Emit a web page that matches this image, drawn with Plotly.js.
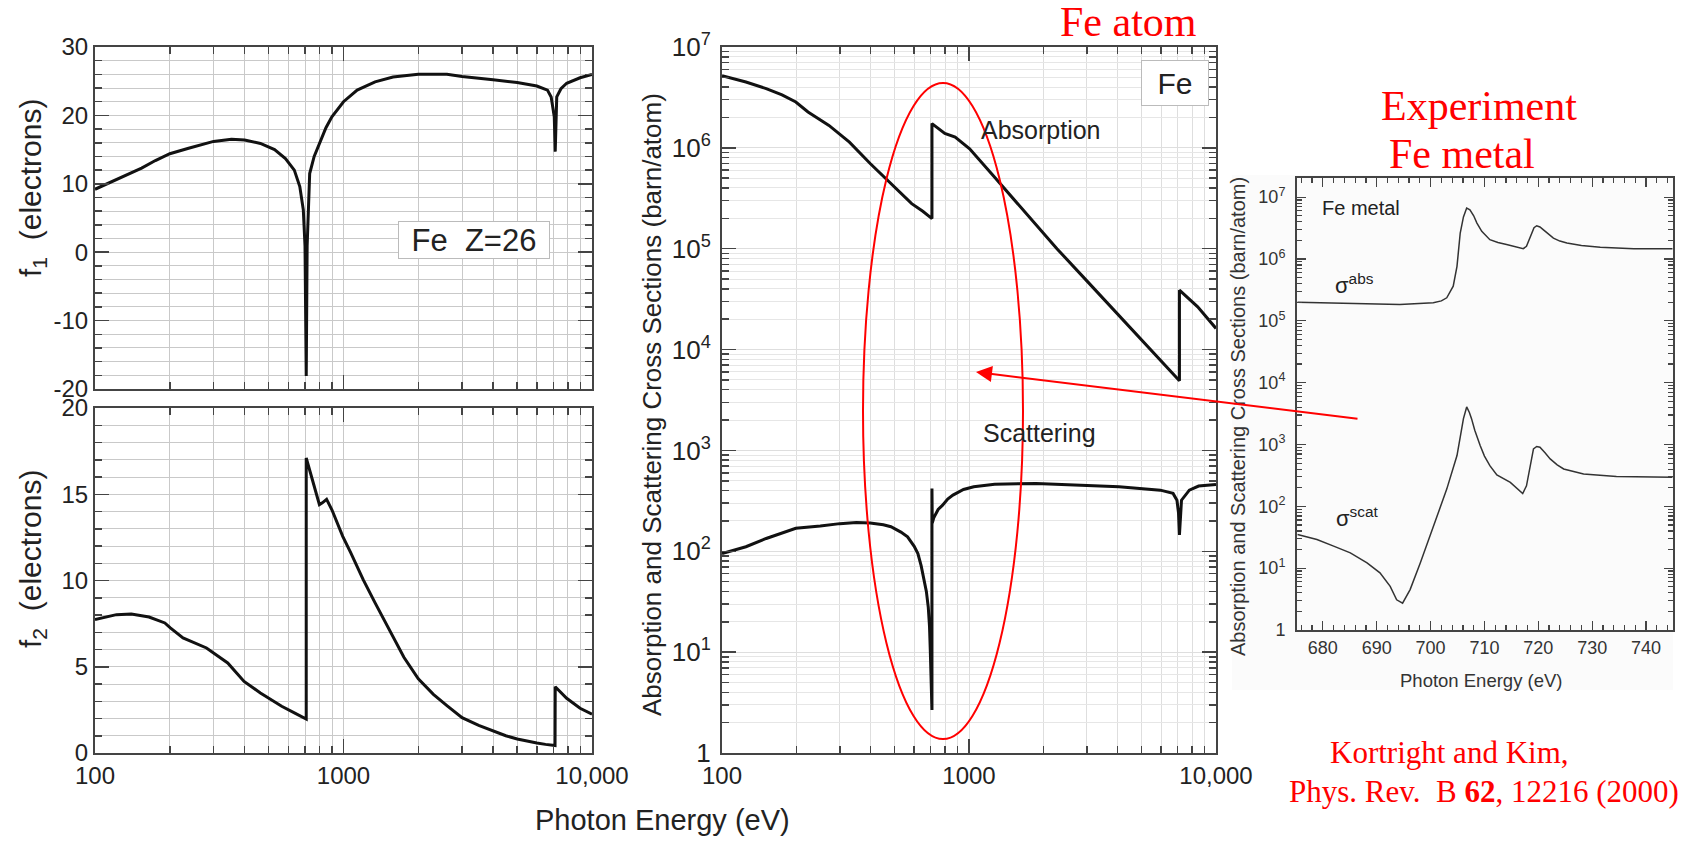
<!DOCTYPE html>
<html>
<head>
<meta charset="utf-8">
<script src="https://cdn.plot.ly/plotly-3.0.1.min.js"></script>
<style>html,body{margin:0;padding:0;background:#fff;}#chart{width:1695px;height:841px;}</style>
</head>
<body>
<div id="chart"></div>
<script>
// ---------- data ----------
// f1 (electrons) vs photon energy (eV)
const f1Energy = [100,122,154,175,200,238,270,300,354,400,463,528,584,634,667,689,700,708,714,731,762,813,850,898,950,1000,1135,1340,1582,2000,2607,3000,4000,5000,6000,6620,6850,7050,7112,7213,7500,7907,8955,10000];
const f1Values = [9.2,10.6,12.3,13.4,14.4,15.2,15.8,16.2,16.5,16.4,15.9,15.0,13.7,12.0,9.6,6.2,0.9,-18.1,0.9,11.5,14.0,16.4,18.2,19.8,21.0,22.0,23.7,24.9,25.6,26.0,26.0,25.7,25.2,24.8,24.3,23.7,22.7,19.8,14.7,22.7,23.9,24.7,25.5,26.0];
// f2 (electrons)
const f2Energy = [100,122,140,165,191,201,226,281,342,398,463,564,640,708,708,760,800,822,855,898,993,1070,1135,1200,1340,1450,1582,1750,2000,2300,2607,3000,3500,4000,4500,5000,5500,6000,6500,7100,7112,7907,8955,10000];
const f2Values = [7.73,8.02,8.06,7.88,7.54,7.25,6.67,6.09,5.22,4.15,3.48,2.71,2.3,1.97,17.1,15.6,14.4,14.5,14.7,14.1,12.56,11.6,10.8,10.05,8.7,7.75,6.7,5.55,4.3,3.4,2.75,2.05,1.6,1.26,1.0,0.81,0.68,0.58,0.5,0.43,3.84,3.17,2.59,2.25];
// Fe atom cross sections (barn/atom)
const absEnergy = [100,125,151,175,199,223,271,328,398,483,586,650,708,708,798,879,1006,1270,1870,2270,3000,4050,5000,5950,7112,7112,8430,10000];
const absValues = [5.2e6,4.5e6,3.87e6,3.35e6,2.85e6,2.27e6,1.67e6,1.14e6,7.0e5,4.43e5,2.8e5,2.35e5,1.99e5,1.74e6,1.39e6,1.28e6,9.8e5,5.1e5,1.74e5,1.0e5,4.8e4,2.17e4,1.24e4,7.9e3,4.9e3,3.88e4,2.65e4,1.62e4];
const scatEnergy = [100,125,151,175,199,250,300,350,398,450,483,530,564,600,621,640,658,672,684,692,697,703,708,708,710,720,750,780,820,861,950,1045,1270,1870,2750,4050,5950,6700,6950,7050,7112,7180,7250,7800,8500,10000];
const scatValues = [95,111,134,152,169,178,188,193,191,183,175,155,139,112,95,72,52,40,28,18,10.5,5,2.67,420,190,215,260,285,330,361,410,436,463,471,453,436,404,375,321,240,145,250,321,404,443,460];
// Experiment, Fe metal (Kortright and Kim)
const metalAbsEnergy = [675.3,681.9,688.1,694.3,700.5,702.0,703.0,704.2,704.9,705.5,706.1,706.7,707.3,708.0,708.6,709.5,711.0,712.5,714.1,716.0,717.2,717.8,718.5,719.2,719.7,720.3,720.9,722.0,722.8,724.0,725.3,728.0,731.5,737.7,744.9];
const metalAbsValues = [2.0e5,1.96e5,1.91e5,1.84e5,1.96e5,2.1e5,2.36e5,3.64e5,7.6e5,2.63e6,4.8e6,6.66e6,6.25e6,5.0e6,3.81e6,2.8e6,2.05e6,1.85e6,1.71e6,1.55e6,1.47e6,1.6e6,2.3e6,3.2e6,3.45e6,3.3e6,2.98e6,2.5e6,2.18e6,1.95e6,1.81e6,1.65e6,1.55e6,1.47e6,1.47e6];
const metalScatEnergy = [675.3,678.9,682.0,685.1,688.2,690.6,692.5,693.7,694.8,696.2,698.1,700.5,703.0,704.9,705.5,706.1,706.7,707.2,707.6,708.2,709.2,710.0,711.0,712.3,714.8,716.0,717.1,717.8,718.5,719.1,719.7,720.3,721.2,722.2,723.5,724.7,728.4,734.5,744.9];
const metalScatValues = [35,29,22.7,17.7,12.2,8.4,5.07,3.08,2.72,4.5,12.2,48,190,662,1300,2620,4050,3300,2620,1700,963,650,455,321,244,200,161,215,455,849,930,906,740,585,470,402,333,305,294];
// tick labels
const energyTickVals = [100,1000,10000];
const energyTickText = ['100','1000','10,000'];
const f1TickVals = [-20,-10,0,10,20,30];
const f1TickText = ['-20','-10','0','10','20','30'];
const f2TickVals = [0,5,10,15,20];
const decadeTickVals = [1,10,100,1000,10000,100000,1000000,10000000];
const decadeTickText = ['1','10<sup>1</sup>','10<sup>2</sup>','10<sup>3</sup>','10<sup>4</sup>','10<sup>5</sup>','10<sup>6</sup>','10<sup>7</sup>'];

// ---------- geometry helpers (pixel -> paper) ----------
const W = 1695, H = 841;
const px = v => v / W;
const py = v => 1 - v / H;

function minorLog(lo, hi) {
  const out = [];
  for (let p = lo; p < hi; p++) for (let m = 2; m <= 9; m++) out.push(m * Math.pow(10, p));
  return out;
}

const FONT = 'Liberation Sans, Arial, sans-serif';
const SERIF = 'Liberation Serif, Times New Roman, serif';
const AXC = '#444';
const GRID = '#c9c9c9';

function energyAxis(domain, anchor, labels, grid) {
  return {
    type: 'log', domain: domain, range: [2, 4], anchor: anchor,
    tickmode: 'array', tickvals: energyTickVals, ticktext: energyTickText,
    showticklabels: labels, tickfont: {size: 24, color: '#222'},
    ticks: 'inside', ticklen: 14, tickwidth: 1.5, tickcolor: AXC,
    showline: true, linecolor: AXC, linewidth: 2, mirror: 'ticks',
    showgrid: true, gridcolor: grid, gridwidth: 1, zeroline: false,
    minor: {tickmode: 'array', tickvals: minorLog(2, 4), ticks: 'inside', ticklen: 7, tickcolor: AXC, showgrid: true, gridcolor: grid, gridwidth: 1},
    fixedrange: true
  };
}

const traces = [
  {x: f1Energy, y: f1Values, xaxis: 'x', yaxis: 'y', mode: 'lines', line: {color: '#111', width: 3}, hoverinfo: 'skip'},
  {x: f2Energy, y: f2Values, xaxis: 'x2', yaxis: 'y2', mode: 'lines', line: {color: '#111', width: 3}, hoverinfo: 'skip'},
  {x: absEnergy, y: absValues, xaxis: 'x3', yaxis: 'y3', mode: 'lines', line: {color: '#111', width: 3}, hoverinfo: 'skip'},
  {x: scatEnergy, y: scatValues, xaxis: 'x3', yaxis: 'y3', mode: 'lines', line: {color: '#111', width: 3}, hoverinfo: 'skip'},
  {x: metalAbsEnergy, y: metalAbsValues, xaxis: 'x4', yaxis: 'y4', mode: 'lines', line: {color: '#333', width: 1.5}, hoverinfo: 'skip'},
  {x: metalScatEnergy, y: metalScatValues, xaxis: 'x4', yaxis: 'y4', mode: 'lines', line: {color: '#333', width: 1.5}, hoverinfo: 'skip'}
];

const leftX = [px(95), px(592)];
const midX = [px(722), px(1216)];

const layout = {
  width: W, height: H,
  margin: {l: 0, r: 0, t: 0, b: 0, pad: 0},
  paper_bgcolor: '#ffffff', plot_bgcolor: 'rgba(0,0,0,0)',
  showlegend: false,
  font: {family: FONT, color: '#222'},
  xaxis: energyAxis(leftX, 'y', false, GRID),
  yaxis: {
    domain: [py(389), py(47)], range: [-20, 30], anchor: 'x',
    tickmode: 'array', tickvals: f1TickVals, ticktext: f1TickText, tickfont: {size: 24, color: '#222'},
    ticks: 'inside', ticklen: 14, tickwidth: 1.5, tickcolor: AXC,
    showline: true, linecolor: AXC, linewidth: 2, mirror: 'ticks',
    showgrid: true, gridcolor: GRID, zeroline: false,
    minor: {dtick: 2, tick0: 0, ticks: 'inside', ticklen: 7, tickcolor: AXC, showgrid: true, gridcolor: GRID},
    fixedrange: true
  },
  xaxis2: energyAxis(leftX, 'y2', true, GRID),
  yaxis2: {
    domain: [py(753), py(408)], range: [0, 20], anchor: 'x2',
    tickmode: 'array', tickvals: f2TickVals, tickfont: {size: 24, color: '#222'},
    ticks: 'inside', ticklen: 14, tickwidth: 1.5, tickcolor: AXC,
    showline: true, linecolor: AXC, linewidth: 2, mirror: 'ticks',
    showgrid: true, gridcolor: GRID, zeroline: false,
    minor: {dtick: 1, tick0: 0, ticks: 'inside', ticklen: 7, tickcolor: AXC, showgrid: true, gridcolor: GRID},
    fixedrange: true
  },
  xaxis3: energyAxis(midX, 'y3', true, '#dedede'),
  yaxis3: {
    type: 'log', domain: [py(753), py(47)], range: [0, 7], anchor: 'x3',
    tickmode: 'array', tickvals: decadeTickVals, ticktext: decadeTickText, tickfont: {size: 26, color: '#222'},
    ticks: 'inside', ticklen: 14, tickwidth: 1.5, tickcolor: AXC,
    showline: true, linecolor: AXC, linewidth: 2, mirror: 'ticks',
    showgrid: true, gridcolor: '#dedede', zeroline: false, ticklabelstandoff: 4,
    minor: {tickmode: 'array', tickvals: minorLog(0, 7), ticks: 'inside', ticklen: 7, tickcolor: AXC, showgrid: true, gridcolor: '#e6e6e6'},
    fixedrange: true
  },
  xaxis4: {
    domain: [px(1297), px(1673)], range: [675.2, 745], anchor: 'y4',
    tickmode: 'linear', tick0: 680, dtick: 10, tickfont: {size: 18, color: '#333'},
    ticks: 'inside', ticklen: 9, tickwidth: 1.2, tickcolor: '#444',
    showline: true, linecolor: '#444', linewidth: 2, mirror: 'ticks',
    showgrid: false, zeroline: false,
    minor: {dtick: 2, tick0: 680, ticks: 'inside', ticklen: 5, tickcolor: '#444', showgrid: false},
    fixedrange: true
  },
  yaxis4: {
    type: 'log', domain: [py(630), py(178)], range: [0, 7.31], anchor: 'x4',
    tickmode: 'array', tickvals: decadeTickVals, ticktext: decadeTickText, tickfont: {size: 18, color: '#333'},
    ticks: 'inside', ticklen: 9, tickwidth: 1.2, tickcolor: '#444',
    showline: true, linecolor: '#444', linewidth: 2, mirror: 'ticks',
    showgrid: false, zeroline: false, ticklabelstandoff: 6,
    minor: {tickmode: 'array', tickvals: minorLog(0, 7), ticks: 'inside', ticklen: 5, tickcolor: '#444', showgrid: false},
    fixedrange: true
  },
  shapes: [
    {type: 'rect', xref: 'paper', yref: 'paper', x0: px(1232), x1: px(1673), y0: py(690), y1: py(175), fillcolor: '#fbfbfb', line: {width: 0}, layer: 'below'},
    {type: 'circle', xref: 'paper', yref: 'paper', x0: px(863), x1: px(1023), y0: py(739), y1: py(83), line: {color: '#ff0000', width: 2}, fillcolor: 'rgba(0,0,0,0)', layer: 'above'}
  ],
  annotations: [
    {xref: 'paper', yref: 'paper', x: px(32), y: py(188), text: 'f<sub>1</sub>\u00a0\u00a0(electrons)', textangle: -90, showarrow: false, font: {size: 30, color: '#222'}, xanchor: 'center', yanchor: 'middle'},
    {xref: 'paper', yref: 'paper', x: px(32), y: py(559), text: 'f<sub>2</sub>\u00a0\u00a0(electrons)', textangle: -90, showarrow: false, font: {size: 30, color: '#222'}, xanchor: 'center', yanchor: 'middle'},
    {xref: 'paper', yref: 'paper', x: px(662), y: py(820), text: 'Photon Energy (eV)', showarrow: false, font: {size: 29, color: '#222'}, xanchor: 'center', yanchor: 'middle'},
    {xref: 'paper', yref: 'paper', x: px(652), y: py(405), text: 'Absorption and Scattering Cross Sections (barn/atom)', textangle: -90, showarrow: false, font: {size: 26, color: '#222'}, xanchor: 'center', yanchor: 'middle'},
    {xref: 'paper', yref: 'paper', x: px(474), y: py(240), text: 'Fe\u00a0\u00a0Z=26', showarrow: false, font: {size: 31, color: '#222'}, bgcolor: '#ffffff', bordercolor: '#bbbbbb', borderwidth: 1, borderpad: 2, width: 146, height: 32, xanchor: 'center', yanchor: 'middle'},
    {xref: 'paper', yref: 'paper', x: px(1175), y: py(83), text: 'Fe', showarrow: false, font: {size: 30, color: '#222'}, bgcolor: '#ffffff', bordercolor: '#bbbbbb', borderwidth: 1, borderpad: 2, width: 62, height: 40, xanchor: 'center', yanchor: 'middle'},
    {xref: 'paper', yref: 'paper', x: px(1041), y: py(130), text: 'Absorption', showarrow: false, font: {size: 25, color: '#222'}, xanchor: 'center', yanchor: 'middle'},
    {xref: 'paper', yref: 'paper', x: px(1039), y: py(433), text: 'Scattering', showarrow: false, font: {size: 25, color: '#222'}, xanchor: 'center', yanchor: 'middle'},
    {xref: 'paper', yref: 'paper', x: px(1128), y: py(22), text: 'Fe atom', showarrow: false, font: {size: 42, color: '#ff0000', family: SERIF}, xanchor: 'center', yanchor: 'middle'},
    {xref: 'paper', yref: 'paper', x: px(1479), y: py(106), text: 'Experiment', showarrow: false, font: {size: 42, color: '#ff0000', family: SERIF}, xanchor: 'center', yanchor: 'middle'},
    {xref: 'paper', yref: 'paper', x: px(1462), y: py(154), text: 'Fe metal', showarrow: false, font: {size: 42, color: '#ff0000', family: SERIF}, xanchor: 'center', yanchor: 'middle'},
    {xref: 'paper', yref: 'paper', x: px(1328), y: py(752), text: 'Kortright and Kim,', showarrow: false, font: {size: 31, color: '#ff0000', family: SERIF}, xanchor: 'left', yanchor: 'middle'},
    {xref: 'paper', yref: 'paper', x: px(1287), y: py(791), text: 'Phys. Rev.\u00a0\u00a0B <b>62</b>, 12216 (2000)', showarrow: false, font: {size: 31, color: '#ff0000', family: SERIF}, xanchor: 'left', yanchor: 'middle'},
    {xref: 'paper', yref: 'paper', x: px(1361), y: py(208), text: 'Fe metal', showarrow: false, font: {size: 20, color: '#222'}, xanchor: 'center', yanchor: 'middle'},
    {xref: 'paper', yref: 'paper', x: px(1333), y: py(284), text: '\u03c3<sup>abs</sup>', showarrow: false, font: {size: 22, color: '#222'}, xanchor: 'left', yanchor: 'middle'},
    {xref: 'paper', yref: 'paper', x: px(1334), y: py(517), text: '\u03c3<sup>scat</sup>', showarrow: false, font: {size: 22, color: '#222'}, xanchor: 'left', yanchor: 'middle'},
    {xref: 'paper', yref: 'paper', x: px(1238), y: py(417), text: 'Absorption and Scattering Cross Sections (barn/atom)', textangle: -90, showarrow: false, font: {size: 20, color: '#333'}, xanchor: 'center', yanchor: 'middle'},
    {xref: 'paper', yref: 'paper', x: px(1481), y: py(680), text: 'Photon Energy (eV)', showarrow: false, font: {size: 18.5, color: '#333'}, xanchor: 'center', yanchor: 'middle'},
    {xref: 'paper', yref: 'paper', x: px(976), y: py(372), text: '', showarrow: true, ax: 383, ay: 47, axref: 'pixel', ayref: 'pixel', arrowcolor: '#ff0000', arrowwidth: 2, arrowhead: 2, arrowsize: 1.6, standoff: 0, startstandoff: 0}
  ]
};

Plotly.newPlot('chart', traces, layout, {staticPlot: true, displayModeBar: false});
</script>
</body>
</html>
